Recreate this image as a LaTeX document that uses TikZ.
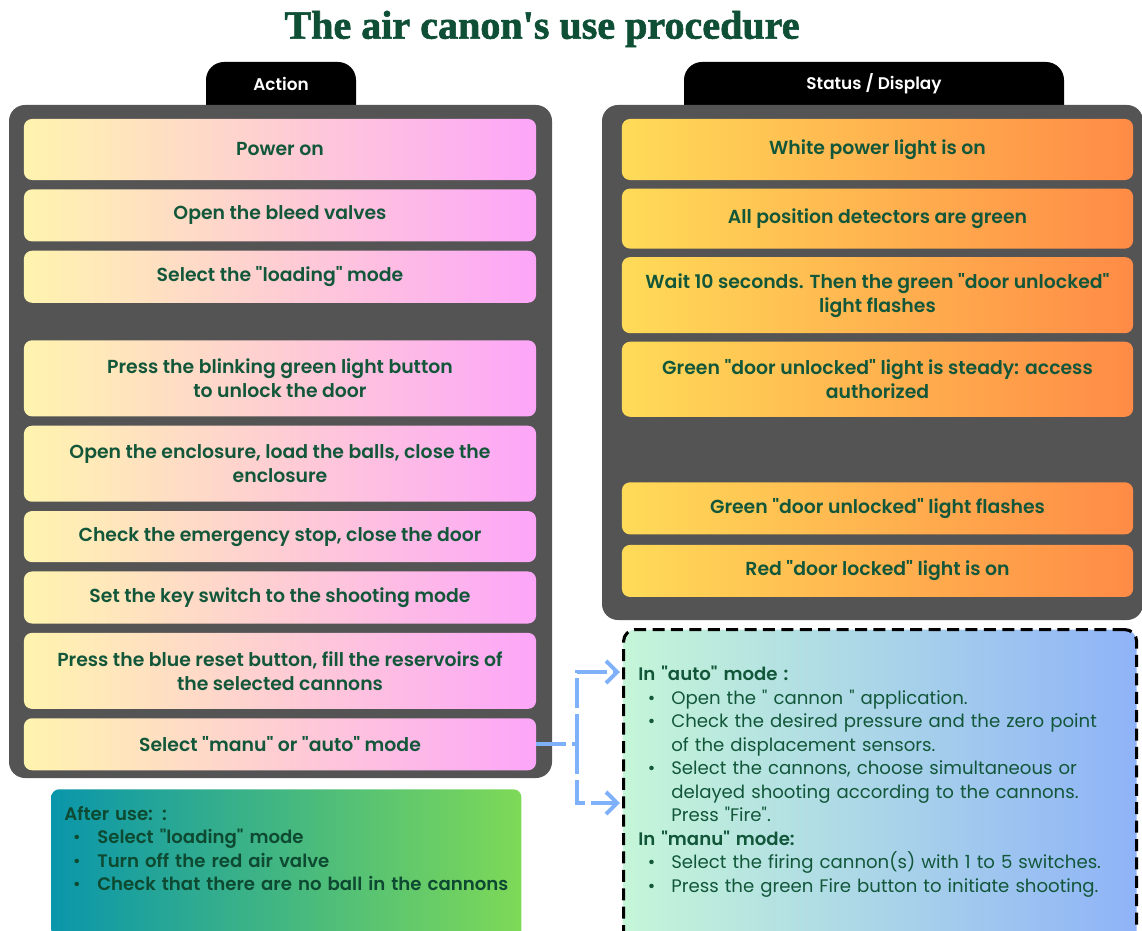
\documentclass[tikz,border=0pt]{standalone}
\usepackage{fontspec}
\setmainfont{Poppins}[Ligatures=TeXOff, BoldFont={Poppins SemiBold}]
\newfontfamily\titlefont{Liberation Serif}[BoldFeatures={FakeBold=1.6}]
\usepackage{enumitem}
\usetikzlibrary{arrows.meta, positioning}
\definecolor{titlegreen}{HTML}{0E4F35}
\definecolor{txtgreen}{HTML}{12573A}
\definecolor{darkgreen}{HTML}{0D4A31}
\definecolor{panelgrey}{HTML}{545454}
\definecolor{actleft}{HTML}{FFF4AE}
\definecolor{actright}{HTML}{FDA6F9}
\definecolor{statleft}{HTML}{FFDB58}
\definecolor{statright}{HTML}{FF8B46}
\definecolor{afterleft}{HTML}{0A96AB}
\definecolor{afterright}{HTML}{7ED957}
\definecolor{modeleft}{HTML}{C5F6D8}
\definecolor{moderight}{HTML}{8FB3F8}
\definecolor{linkblue}{HTML}{7FB1FA}
\newcommand{\boxfont}{\fontsize{13.4}{17}\selectfont\bfseries}
\newcommand{\tabfont}{\fontsize{12}{13}\selectfont\bfseries}
\newcommand{\listfont}{\fontsize{12.9}{16.7}\selectfont}
\tikzset{
  actbox/.style={rounded corners=0.2cm, left color=actleft, right color=actright, minimum width=12.8cm, align=center, text=txtgreen, font=\boxfont, inner sep=2pt},
  statbox/.style={actbox, left color=statleft, right color=statright, minimum width=12.775cm},
  tabhead/.style={text=white, font=\tabfont},
  tabfill/.style={fill=black, rounded corners=0.45cm},
  panel/.style={fill=panelgrey, rounded corners=0.4cm},
  notebox/.style={rounded corners=0.2cm, left color=afterleft, right color=afterright, anchor=north west},
  modebox/.style={rounded corners=0.3cm, left color=modeleft, right color=moderight, draw=black, line width=2.2pt, dash pattern=on 3mm off 1.6mm, anchor=north west},
  listtext/.style={text=txtgreen, font=\listfont, align=left, anchor=north west, inner sep=0pt},
  modelink/.style={linkblue, line width=2.8pt, dash pattern=on 7.5mm off 1.5mm},
  modearrow/.style={modelink, -{Straight Barb[length=2.8mm, width=5.5mm]}},
}
\begin{document}
\begin{tikzpicture}[x=0.025cm, y=-0.025cm, node distance=0.22cm]
  \useasboundingbox (0,0) rectangle (1142,931);
  \node[text=titlegreen, font={\titlefont\fontsize{28.5}{30}\selectfont\bfseries}] (title) at (542,29) {The air canon's use procedure};

  % tabs first, the grey panels hide their lower part
  \fill[tabfill] (206,62) rectangle (356,130);
  \fill[tabfill] (684,62) rectangle (1064,130);
  \fill[panel] (9,105) rectangle (552,778);
  \fill[panel] (602,105) rectangle (1143,620);
  \node[tabhead] (acthead) at (281,84) {Action};
  \node[tabhead] (stathead) at (874,84) {Status / Display};

  % action column
  \node[actbox, minimum height=1.525cm] (power) at (280,149.5) {Power on};
  \node[actbox, minimum height=1.3cm, below=of power] (bleed) {Open the bleed valves};
  \node[actbox, minimum height=1.3cm, below=of bleed] (loadmode) {Select the "loading" mode};
  \node[actbox, minimum height=1.9cm, below=0.925cm of loadmode] (unlock) {Press the blinking green light button\\to unlock the door};
  \node[actbox, minimum height=1.9cm, below=of unlock] (enclosure) {Open the enclosure, load the balls, close the\\enclosure};
  \node[actbox, minimum height=1.275cm, below=of enclosure] (estop) {Check the emergency stop, close the door};
  \node[actbox, minimum height=1.3cm, below=of estop] (keysw) {Set the key switch to the shooting mode};
  \node[actbox, minimum height=1.9cm, below=of keysw] (reset) {Press the blue reset button, fill the reservoirs of\\the selected cannons};
  \node[actbox, minimum height=1.3cm, below=of reset] (selmode) {Select "manu" or "auto" mode};

  % status column
  \node[statbox, minimum height=1.525cm] (whitelt) at (877.5,149.5) {White power light is on};
  \node[statbox, minimum height=1.5cm, below=0.2cm of whitelt] (detect) {All position detectors are green};
  \node[statbox, minimum height=1.9cm, below=0.2cm of detect] (wait) {Wait 10 seconds. Then the green "door unlocked"\\light flashes};
  \node[statbox, minimum height=1.875cm, below=0.2cm of wait] (steady) {Green "door unlocked" light is steady: access\\authorized};
  \node[statbox, minimum height=1.3cm, below=1.625cm of steady] (flash) {Green "door unlocked" light flashes};
  \node[statbox, minimum height=1.3cm, below=0.25cm of flash] (locked) {Red "door locked" light is on};

  % after use
  \node[notebox, minimum width=11.75cm, minimum height=4.2cm] (after) at (51,789) {};
  \node[listtext, text=darkgreen, font=\listfont\bfseries, text width=11.4cm] (aftertext) at (64,806) {After use: :
    \begin{itemize}[nosep, leftmargin=0.825cm, labelsep=0.42cm]
      \item Select "loading" mode
      \item Turn off the red air valve
      \item Check that there are no ball in the cannons
    \end{itemize}};

  % shooting modes
  \node[modebox, minimum width=12.825cm, minimum height=8cm] (modes) at (622,628) {};
  \node[listtext, text width=12.3cm] (modetext) at (638,666) {\textbf{In "auto" mode :}
    \begin{itemize}[nosep, leftmargin=0.825cm, labelsep=0.4cm]
      \item Open the " cannon " application.
      \item Check the desired pressure and the zero point\\of the displacement sensors.
      \item Select the cannons, choose simultaneous or\\delayed shooting according to the cannons.\\Press "Fire".
    \end{itemize}
    \textbf{In "manu" mode:}
    \begin{itemize}[nosep, leftmargin=0.825cm, labelsep=0.4cm]
      \item Select the firing cannon(s) with 1 to 5 switches.
      \item Press the green Fire button to initiate shooting.
    \end{itemize}};

  \coordinate (split) at ([xshift=1.025cm]selmode.east);
  \coordinate (autoin) at (620,672);
  \coordinate (manuin) at (620,803);
  \draw[modelink] (selmode.east) -- (split);
  \draw[modearrow] (split) |- (autoin);
  \draw[modearrow] (split) |- (manuin);
\end{tikzpicture}
\end{document}
